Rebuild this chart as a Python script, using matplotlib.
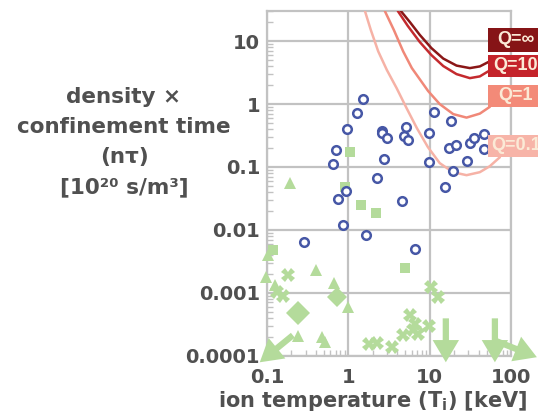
import matplotlib
matplotlib.use("Agg")
import matplotlib.pyplot as plt
from matplotlib.patches import Rectangle
from matplotlib.ticker import LogLocator, NullFormatter, FixedLocator, FixedFormatter

plt.rcParams["font.family"] = ["DejaVu Sans"]
plt.rcParams["font.weight"] = "bold"

# ---------------- data ----------------
# experimental results (blue circles)
circle_T = [1.50, 1.27, 0.967, 0.708, 0.657, 2.56, 2.62, 2.95, 2.71, 2.26,
            5.05, 4.86, 5.35, 9.86, 9.69, 11.4, 18.1, 17.2, 20.8, 19.3,
            15.5, 28.7, 31.0, 34.7, 46.8, 46.0, 0.932, 0.749, 0.855, 1.64,
            0.284, 4.55, 6.63]
circle_nt = [1.19, 0.719, 0.404, 0.187, 0.110, 0.37, 0.35, 0.291, 0.132, 0.0663,
             0.426, 0.309, 0.267, 0.341, 0.118, 0.754, 0.530, 0.197, 0.222, 0.0857,
             0.0482, 0.125, 0.239, 0.284, 0.337, 0.194, 0.0412, 0.0307, 0.0120, 0.00829,
             0.00635, 0.0289, 0.00491]

# other devices (green)
square_T = [1.04, 0.90, 1.45, 2.16, 4.91, 0.117]
square_nt = [0.170, 0.048, 0.0246, 0.0182, 0.00251, 0.00469]

tri_T = [0.191, 0.103, 0.398, 0.097, 0.668, 0.978, 0.241, 0.48, 0.52, 0.125]
tri_nt = [0.0558, 0.00394, 0.00227, 0.00178, 0.0014, 0.00059, 0.000202, 0.000197, 0.000165, 0.00131]

diamond_T = [0.241, 0.716]
diamond_nt = [0.000478, 0.000855]
diamond_ms = [12, 10]

cross_T = [0.182, 0.131, 0.156, 10.5, 12.7, 1.79, 2.22, 3.40, 4.72, 5.71,
           6.58, 7.22, 9.77, 6.3]
cross_nt = [0.00189, 0.00103, 0.00088, 0.00123, 0.00085, 0.000155, 0.000158, 0.000137, 0.00021, 0.000437,
            0.000322, 0.000223, 0.000295, 0.00025]

# upper-limit arrows (from -> to)
limit_T_from = [15.8, 63.4, 0.208, 67.1]
limit_nt_from = [0.00039, 0.00039, 0.00021, 0.000168]
limit_T_to = [15.8, 63.4, 0.0815, 208.0]
limit_nt_to = [7.8e-5, 7.8e-5, 7.8e-5, 9.4e-5]

# Q curves
qinf_T = [4.42, 5.71, 7.57, 10.5, 14.7, 21.4, 31.2, 41.4, 52.4]
qinf_nt = [30.3, 20.2, 12.6, 7.79, 5.30, 4.10, 3.74, 3.98, 4.66]
q10_T = [4.06, 5.39, 7.57, 10.5, 14.7, 21.4, 31.2, 41.4, 52.4]
q10_nt = [30.3, 17.5, 9.71, 6.03, 4.03, 3.0, 2.59, 2.76, 3.32]
q1_T = [2.81, 3.63, 4.72, 6.04, 9.59, 13.3, 19.5, 28.4, 41.4, 55.0]
q1_nt = [30.3, 15.1, 6.91, 3.74, 1.61, 1.0, 0.693, 0.610, 0.706, 0.906]
q01_T = [1.60, 1.89, 2.33, 2.98, 3.92, 5.20, 6.96, 9.51, 13.3, 19.3, 28.4, 41.4, 55.0, 73.0]
q01_nt = [30.3, 15.1, 6.91, 3.48, 1.80, 0.863, 0.415, 0.207, 0.115, 0.0826, 0.074, 0.0826, 0.103, 0.143]

q_labels = ["Q=∞", "Q=10", "Q=1", "Q=0.1"]

xticks = [0.1, 1, 10, 100]
xtick_labels = ["0.1", "1", "10", "100"]
yticks = [0.0001, 0.001, 0.01, 0.1, 1, 10]
ytick_labels = ["0.0001", "0.001", "0.01", "0.1", "1", "10"]

ylabel_lines = ["density ×", "confinement time", "(nτ)", "[10²⁰ s/m³]"]
xlabel = r"ion temperature (T$_\mathbf{i}$) [keV]"

# ---------------- style ----------------
W, H = 538, 416
BLUE = "#4657a6"
GREEN = "#b4db9b"
GRID = "#c2c2c2"
TEXT = "#505050"
q_colors = ["#8a1717", "#c42a2e", "#f08878", "#f6b2a6"]
box_colors = ["#861416", "#c4232a", "#f38a78", "#f7b4a8"]
box_pix = [(28, 52), (55, 77), (85, 107), (135, 157)]   # top, bottom in pixels
text_x_pix = [497, 493, 498, 491]
ylabel_y_pix = [97, 127, 157, 187]

fig = plt.figure(figsize=(W / 100, H / 100), dpi=100)
ax = fig.add_axes([267 / W, 1 - 355.5 / H, (511 - 267) / W, (355.5 - 11) / H])
ax.set_xscale("log")
ax.set_yscale("log")
ax.set_xlim(0.1, 100)
ax.set_ylim(1e-4, 30.3)

ax.grid(True, which="major", color=GRID, lw=1.6)
ax.set_axisbelow(True)
for s in ax.spines.values():
    s.set_color(GRID)
    s.set_linewidth(1.6)

ax.xaxis.set_major_locator(FixedLocator(xticks))
ax.xaxis.set_major_formatter(FixedFormatter(xtick_labels))
ax.yaxis.set_major_locator(FixedLocator(yticks))
ax.yaxis.set_major_formatter(FixedFormatter(ytick_labels))
ax.xaxis.set_minor_locator(LogLocator(base=10, subs=range(2, 10), numticks=20))
ax.yaxis.set_minor_locator(LogLocator(base=10, subs=range(2, 10), numticks=20))
ax.xaxis.set_minor_formatter(NullFormatter())
ax.yaxis.set_minor_formatter(NullFormatter())
ax.tick_params(which="both", direction="in", color=GRID, top=False, right=False)
ax.tick_params(which="major", length=0, labelsize=14, labelcolor=TEXT)
ax.tick_params(which="minor", length=4, width=1)
ax.tick_params(axis="y", which="major", pad=5)
ax.tick_params(axis="x", which="major", pad=9)

# green markers
ax.plot(square_T, square_nt, "s", color=GREEN, ms=7, mew=0, ls="none", zorder=3)
ax.plot(tri_T, tri_nt, "^", color=GREEN, ms=8, mew=0, ls="none", zorder=3, clip_on=False)
for t, v, m in zip(diamond_T, diamond_nt, diamond_ms):
    ax.plot([t], [v], "D", color=GREEN, ms=m, mew=0, ls="none", zorder=3)
ax.plot(cross_T, cross_nt, "X", color=GREEN, ms=10, mew=0, ls="none", zorder=3)
for t0, v0, t1, v1 in zip(limit_T_from, limit_nt_from, limit_T_to, limit_nt_to):
    ax.annotate("", xy=(t1, v1), xytext=(t0, v0), annotation_clip=False,
                arrowprops=dict(arrowstyle="simple,head_length=16,head_width=19,tail_width=4.5",
                                mutation_scale=1, color=GREEN, lw=0, shrinkA=0, shrinkB=0),
                zorder=3)

# blue circles
ax.plot(circle_T, circle_nt, "o", mfc="white", mec=BLUE, mew=1.8, ms=6.2, ls="none", zorder=5)

# Q curves
for Tc, nc, c in zip([q01_T, q1_T, q10_T, qinf_T], [q01_nt, q1_nt, q10_nt, qinf_nt], q_colors[::-1]):
    ax.plot(Tc, nc, color=c, lw=1.8, zorder=4, solid_capstyle="round")

# Q label boxes (in figure pixels)
for lab, col, (top, bot), tx in zip(q_labels, box_colors, box_pix, text_x_pix):
    fig.patches.append(Rectangle((488 / W, 1 - bot / H), 60 / W, (bot - top) / H,
                                 transform=fig.transFigure, facecolor=col, edgecolor="none",
                                 zorder=10))
    fig.text(tx / W, 1 - (top + bot) / 2 / H, lab, ha="left", va="center",
             fontsize=13, fontweight="bold", color="#fbead6", family="Liberation Sans",
             zorder=11)

# axis labels
for line, yp in zip(ylabel_lines, ylabel_y_pix):
    fig.text(124 / W, 1 - yp / H, line, ha="center", va="center",
             fontsize=15.5, fontweight="bold", color=TEXT)
fig.text(373 / W, 1 - 401 / H, xlabel, ha="center", va="center",
         fontsize=15, fontweight="bold", color=TEXT)

fig.savefig("out.png", dpi=100)
